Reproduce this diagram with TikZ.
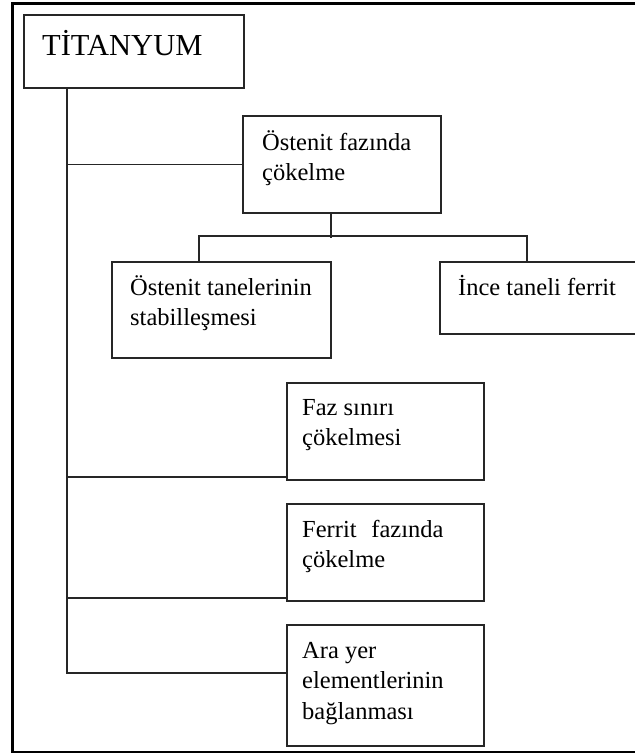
\documentclass[tikz,border=0pt]{standalone}
\usepackage{fontspec}
\setmainfont{Liberation Serif}
\begin{document}
\begin{tikzpicture}[x=1pt,y=-1pt,
  box/.style={draw=black!85, line width=1.9pt, inner sep=0pt, anchor=north west},
  conn/.style={draw=black!85, line width=1.9pt},
  txt/.style={anchor=base west, inner sep=0pt, font=\fontsize{24.5}{30.5}\selectfont},
  bigtxt/.style={anchor=base west, inner sep=0pt, font=\fontsize{30.5}{36}\selectfont}]
\useasboundingbox (0,0) rectangle (635,753);
% outer frame (right side cut off)
\draw[line width=3pt] (650,3) -- (12,3) -- (12,752) -- (650,752);
% boxes
\node[box, minimum width=220pt, minimum height=73pt] (ti) at (23,14) {};
\node[box, minimum width=198pt, minimum height=97pt] (of) at (242,115) {};
\node[box, minimum width=219pt, minimum height=96pt] (ot) at (111,261) {};
\node[box, minimum width=215pt, minimum height=72pt] (in) at (439,261) {};
\node[box, minimum width=197pt, minimum height=97pt] (fs) at (286,382) {};
\node[box, minimum width=197pt, minimum height=97pt] (ff) at (286,503) {};
\node[box, minimum width=197pt, minimum height=121pt] (ay) at (286,624) {};
% texts
\node[bigtxt] (tti) at (42,55) {TİTANYUM};
\node[txt] (tof) at (262,150) {\parbox[t]{180pt}{Östenit fazında\\çökelme}};
\node[txt] (tot) at (130,295) {\parbox[t]{200pt}{Östenit tanelerinin\\stabilleşmesi}};
\node[txt] (tin) at (458,295) {İnce taneli ferrit};
\node[txt] (tfs) at (302,415) {\parbox[t]{180pt}{Faz sınırı\\çökelmesi}};
\node[txt] (tff) at (302,537) {\parbox[t]{180pt}{Ferrit\hspace{0.35em} fazında\\çökelme}};
\node[txt] (tay) at (302,658) {\parbox[t]{180pt}{Ara yer\\elementlerinin\\bağlanması}};
% trunk and branches
\coordinate (trunk) at ([xshift=44pt]ti.south west);
\draw[conn] (trunk) |- ([yshift=-49pt]ay.north west);
\draw[conn] (trunk) |- (of.west);
\draw[conn] (trunk) |- ([yshift=4pt]fs.south west);
\draw[conn] (trunk) |- ([yshift=4pt]ff.south west);
% sub-branches
\draw[conn] ([xshift=89pt]of.south west) -- ++(0,-24pt);
\draw[conn] ([xshift=88pt]ot.north west) -- ++(0,25pt) -| ([xshift=88pt]in.north west);
\end{tikzpicture}
\end{document}
